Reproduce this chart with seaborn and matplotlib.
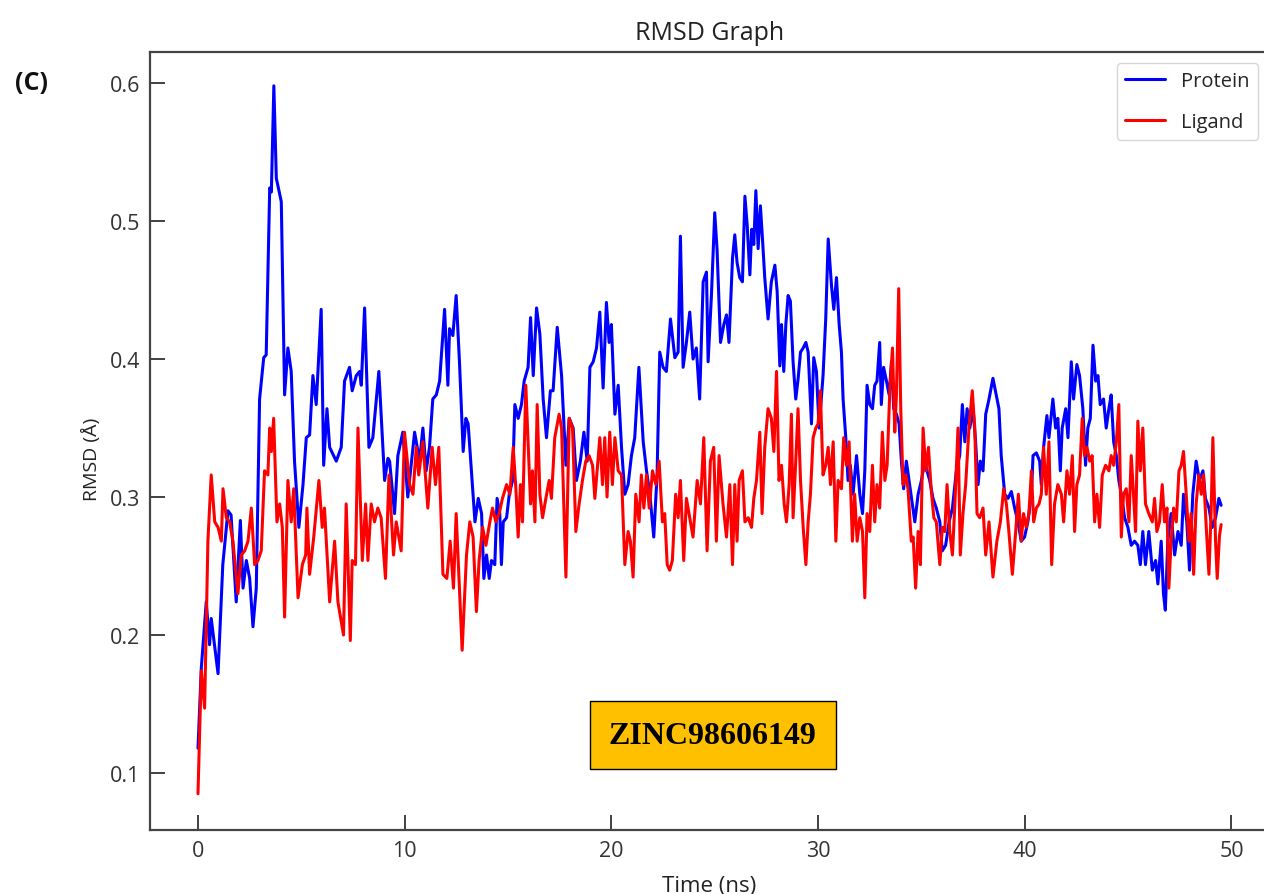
import matplotlib
matplotlib.use("Agg")
import matplotlib.pyplot as plt
import seaborn as sns
import pandas as pd

# Protein RMSD (blue)
protein_time = [0.0, 0.16, 0.4, 0.56, 0.64, 0.97, 1.2, 1.45, 1.6, 1.85, 2.05, 2.18, 2.34, 2.5, 2.66, 2.82,
                2.98, 3.18, 3.3, 3.47, 3.55, 3.67, 3.79, 4.03, 4.19, 4.35, 4.51, 4.67, 4.88, 5.08, 5.24, 5.4,
                5.56, 5.72, 5.96, 6.08, 6.24, 6.37, 6.69, 6.93, 7.09, 7.33, 7.46, 7.66, 7.82, 7.9, 8.06, 8.27,
                8.46, 8.75, 9.03, 9.19, 9.27, 9.51, 9.67, 9.91, 10.15, 10.48, 10.72, 10.88, 11.04, 11.2, 11.36,
                11.53, 11.69, 11.93, 12.09, 12.17, 12.33, 12.49, 12.65, 12.83, 12.96, 13.07, 13.23, 13.4, 13.56,
                13.72, 13.83, 13.96, 14.09, 14.2, 14.36, 14.47, 14.6, 14.68, 14.77, 14.93, 15.06, 15.22, 15.33,
                15.49, 15.65, 15.78, 15.97, 16.09, 16.22, 16.38, 16.54, 16.7, 16.86, 17.05, 17.18, 17.38, 17.59,
                17.8, 17.96, 18.15, 18.31, 18.5, 18.67, 18.83, 18.96, 19.12, 19.28, 19.44, 19.6, 19.76, 19.89,
                20.0, 20.17, 20.33, 20.49, 20.65, 20.81, 20.97, 21.13, 21.33, 21.54, 21.7, 21.86, 22.05, 22.21,
                22.34, 22.5, 22.66, 22.86, 23.07, 23.23, 23.34, 23.47, 23.63, 23.79, 23.95, 24.11, 24.27, 24.44,
                24.6, 24.68, 24.84, 25.0, 25.11, 25.28, 25.44, 25.57, 25.69, 25.86, 25.97, 26.08, 26.21, 26.34,
                26.46, 26.57, 26.7, 26.79, 26.89, 26.99, 27.1, 27.21, 27.31, 27.42, 27.58, 27.74, 27.91, 28.02,
                28.15, 28.23, 28.34, 28.44, 28.55, 28.66, 28.79, 28.92, 29.03, 29.15, 29.28, 29.41, 29.52, 29.68,
                29.79, 29.92, 30.05, 30.24, 30.37, 30.49, 30.65, 30.76, 30.89, 31.02, 31.13, 31.21, 31.34, 31.45,
                31.56, 31.69, 31.86, 32.02, 32.15, 32.26, 32.37, 32.5, 32.63, 32.74, 32.85, 32.98, 33.06, 33.17,
                33.31, 33.44, 33.55, 33.66, 33.79, 33.92, 34.03, 34.14, 34.27, 34.4, 34.52, 34.68, 34.84, 35.0,
                35.16, 35.27, 35.4, 35.56, 35.72, 35.89, 36.01, 36.17, 36.34, 36.5, 36.69, 36.85, 36.98, 37.1,
                37.21, 37.34, 37.5, 37.62, 37.74, 37.85, 37.98, 38.11, 38.27, 38.46, 38.62, 38.75, 38.86, 39.03,
                39.19, 39.35, 39.51, 39.67, 39.83, 39.99, 40.15, 40.32, 40.4, 40.56, 40.72, 40.8, 40.91, 41.07,
                41.17, 41.36, 41.49, 41.6, 41.72, 41.81, 41.98, 42.09, 42.25, 42.36, 42.52, 42.65, 42.81, 42.94,
                43.05, 43.17, 43.3, 43.43, 43.54, 43.65, 43.81, 43.94, 44.07, 44.18, 44.3, 44.43, 44.55, 44.67,
                44.83, 44.99, 45.15, 45.31, 45.47, 45.59, 45.71, 45.84, 46.0, 46.17, 46.33, 46.44, 46.6, 46.71,
                46.8, 46.92, 47.08, 47.25, 47.41, 47.57, 47.68, 47.84, 47.97, 48.13, 48.29, 48.45, 48.62, 48.74,
                48.91, 49.07, 49.23, 49.39, 49.5]
protein_rmsd = [0.118, 0.176, 0.224, 0.193, 0.212, 0.172, 0.251, 0.290, 0.287, 0.224, 0.283, 0.234, 0.254, 0.241,
                0.206, 0.234, 0.371, 0.401, 0.403, 0.524, 0.521, 0.598, 0.531, 0.514, 0.374, 0.408, 0.391, 0.326,
                0.278, 0.309, 0.343, 0.345, 0.388, 0.367, 0.436, 0.323, 0.364, 0.336, 0.326, 0.336, 0.384, 0.394,
                0.377, 0.388, 0.391, 0.381, 0.437, 0.336, 0.343, 0.391, 0.312, 0.328, 0.326, 0.288, 0.330, 0.347,
                0.300, 0.347, 0.326, 0.350, 0.319, 0.336, 0.371, 0.374, 0.384, 0.436, 0.381, 0.422, 0.417, 0.446,
                0.398, 0.333, 0.357, 0.353, 0.319, 0.282, 0.299, 0.288, 0.241, 0.258, 0.241, 0.254, 0.251, 0.299,
                0.288, 0.251, 0.282, 0.285, 0.302, 0.312, 0.367, 0.357, 0.367, 0.384, 0.394, 0.430, 0.388, 0.437,
                0.418, 0.371, 0.343, 0.377, 0.377, 0.423, 0.388, 0.323, 0.357, 0.350, 0.312, 0.326, 0.347, 0.326,
                0.394, 0.398, 0.408, 0.434, 0.379, 0.441, 0.412, 0.425, 0.360, 0.381, 0.336, 0.302, 0.309, 0.330,
                0.343, 0.394, 0.340, 0.319, 0.302, 0.271, 0.316, 0.405, 0.394, 0.391, 0.429, 0.401, 0.405, 0.489,
                0.394, 0.412, 0.434, 0.400, 0.408, 0.371, 0.456, 0.463, 0.398, 0.446, 0.506, 0.480, 0.412, 0.425,
                0.432, 0.412, 0.473, 0.490, 0.470, 0.459, 0.456, 0.518, 0.497, 0.461, 0.494, 0.483, 0.522, 0.480,
                0.511, 0.487, 0.459, 0.429, 0.456, 0.468, 0.449, 0.395, 0.425, 0.391, 0.425, 0.446, 0.442, 0.398,
                0.371, 0.385, 0.405, 0.408, 0.412, 0.405, 0.353, 0.401, 0.391, 0.350, 0.388, 0.429, 0.487, 0.453,
                0.436, 0.459, 0.425, 0.405, 0.371, 0.343, 0.312, 0.323, 0.302, 0.330, 0.302, 0.288, 0.319, 0.381,
                0.367, 0.364, 0.381, 0.384, 0.412, 0.367, 0.394, 0.384, 0.374, 0.398, 0.364, 0.360, 0.353, 0.326,
                0.306, 0.326, 0.312, 0.299, 0.282, 0.302, 0.312, 0.326, 0.319, 0.312, 0.299, 0.292, 0.282, 0.261,
                0.265, 0.282, 0.292, 0.319, 0.330, 0.367, 0.340, 0.364, 0.350, 0.364, 0.340, 0.309, 0.326, 0.319,
                0.360, 0.371, 0.386, 0.374, 0.364, 0.330, 0.302, 0.299, 0.304, 0.292, 0.282, 0.268, 0.271, 0.282,
                0.302, 0.330, 0.332, 0.326, 0.309, 0.336, 0.359, 0.343, 0.371, 0.350, 0.357, 0.319, 0.350, 0.364,
                0.343, 0.398, 0.371, 0.396, 0.388, 0.364, 0.323, 0.350, 0.357, 0.410, 0.384, 0.388, 0.367, 0.371,
                0.350, 0.364, 0.374, 0.340, 0.330, 0.312, 0.302, 0.285, 0.278, 0.265, 0.268, 0.265, 0.251, 0.275,
                0.251, 0.275, 0.247, 0.254, 0.237, 0.268, 0.230, 0.218, 0.268, 0.288, 0.258, 0.275, 0.265, 0.302,
                0.282, 0.247, 0.302, 0.326, 0.312, 0.319, 0.299, 0.292, 0.278, 0.285, 0.299, 0.294]

# Ligand RMSD (red)
ligand_time = [0.0, 0.16, 0.32, 0.48, 0.64, 0.81, 0.97, 1.13, 1.21, 1.37, 1.53, 1.69, 1.93, 2.1, 2.26, 2.42, 2.58,
               2.74, 2.9, 3.06, 3.22, 3.38, 3.47, 3.55, 3.66, 3.82, 3.95, 4.08, 4.19, 4.35, 4.51, 4.63, 4.84, 5.05,
               5.21, 5.27, 5.4, 5.6, 5.85, 6.01, 6.12, 6.37, 6.61, 6.77, 7.04, 7.17, 7.37, 7.46, 7.62, 7.74, 7.95,
               8.11, 8.22, 8.38, 8.54, 8.7, 8.86, 9.07, 9.24, 9.46, 9.59, 9.83, 9.99, 10.24, 10.4, 10.56, 10.68,
               10.88, 11.12, 11.33, 11.49, 11.65, 11.85, 12.04, 12.2, 12.36, 12.49, 12.78, 12.99, 13.15, 13.31,
               13.47, 13.6, 13.77, 13.93, 14.12, 14.25, 14.41, 14.57, 14.73, 14.93, 15.09, 15.25, 15.38, 15.49,
               15.6, 15.7, 15.86, 15.99, 16.09, 16.18, 16.3, 16.41, 16.54, 16.67, 16.83, 16.99, 17.1, 17.26, 17.47,
               17.59, 17.8, 17.96, 18.12, 18.28, 18.44, 18.6, 18.76, 18.92, 19.09, 19.2, 19.31, 19.44, 19.57,
               19.68, 19.79, 19.92, 20.05, 20.17, 20.33, 20.49, 20.65, 20.81, 20.92, 21.05, 21.18, 21.34, 21.45,
               21.57, 21.7, 21.83, 21.99, 22.15, 22.31, 22.47, 22.58, 22.7, 22.82, 22.95, 23.11, 23.23, 23.34,
               23.5, 23.63, 23.79, 23.95, 24.15, 24.31, 24.47, 24.63, 24.79, 24.95, 25.08, 25.21, 25.4, 25.57,
               25.73, 25.86, 25.97, 26.08, 26.18, 26.34, 26.46, 26.62, 26.78, 26.89, 27.02, 27.18, 27.29, 27.42,
               27.58, 27.74, 27.86, 27.99, 28.11, 28.23, 28.36, 28.47, 28.6, 28.71, 28.79, 28.92, 29.03, 29.15,
               29.28, 29.41, 29.52, 29.63, 29.76, 29.89, 30.0, 30.11, 30.24, 30.37, 30.49, 30.6, 30.73, 30.86,
               30.97, 31.13, 31.24, 31.37, 31.5, 31.66, 31.77, 31.89, 32.02, 32.15, 32.26, 32.37, 32.5, 32.63,
               32.74, 32.85, 32.98, 33.11, 33.23, 33.34, 33.47, 33.6, 33.71, 33.79, 33.9, 34.0, 34.11, 34.24,
               34.35, 34.51, 34.6, 34.72, 34.84, 34.95, 35.08, 35.21, 35.34, 35.47, 35.6, 35.72, 35.89, 36.01,
               36.13, 36.24, 36.37, 36.5, 36.61, 36.77, 36.88, 37.01, 37.14, 37.3, 37.46, 37.58, 37.69, 37.82,
               37.98, 38.11, 38.27, 38.46, 38.65, 38.82, 38.98, 39.11, 39.23, 39.4, 39.56, 39.69, 39.83, 39.94,
               40.07, 40.2, 40.32, 40.43, 40.56, 40.69, 40.8, 40.91, 41.04, 41.17, 41.3, 41.44, 41.6, 41.77, 41.88,
               42.04, 42.17, 42.3, 42.41, 42.52, 42.65, 42.78, 42.89, 43.01, 43.14, 43.26, 43.38, 43.49, 43.62,
               43.75, 43.91, 44.07, 44.18, 44.3, 44.43, 44.55, 44.67, 44.78, 44.91, 45.04, 45.15, 45.26, 45.36,
               45.47, 45.59, 45.71, 45.84, 46.0, 46.17, 46.28, 46.39, 46.52, 46.65, 46.76, 46.88, 46.97, 47.08,
               47.2, 47.33, 47.46, 47.57, 47.68, 47.81, 47.94, 48.05, 48.17, 48.29, 48.42, 48.54, 48.65, 48.78,
               48.91, 49.02, 49.1, 49.23, 49.31, 49.42, 49.5]
ligand_rmsd = [0.085, 0.174, 0.147, 0.268, 0.316, 0.282, 0.278, 0.268, 0.306, 0.285, 0.282, 0.268, 0.230, 0.258,
               0.261, 0.268, 0.292, 0.251, 0.254, 0.261, 0.319, 0.316, 0.350, 0.333, 0.357, 0.282, 0.295, 0.278,
               0.213, 0.312, 0.282, 0.306, 0.227, 0.251, 0.258, 0.292, 0.244, 0.271, 0.312, 0.278, 0.292, 0.224,
               0.268, 0.224, 0.200, 0.295, 0.196, 0.254, 0.251, 0.350, 0.254, 0.295, 0.254, 0.295, 0.282, 0.292,
               0.285, 0.241, 0.316, 0.258, 0.282, 0.261, 0.347, 0.309, 0.302, 0.336, 0.316, 0.340, 0.292, 0.336,
               0.309, 0.336, 0.244, 0.241, 0.268, 0.234, 0.288, 0.189, 0.258, 0.282, 0.271, 0.217, 0.254, 0.278,
               0.265, 0.282, 0.292, 0.282, 0.288, 0.299, 0.309, 0.302, 0.336, 0.306, 0.271, 0.309, 0.282, 0.381,
               0.333, 0.295, 0.319, 0.282, 0.367, 0.302, 0.285, 0.299, 0.312, 0.299, 0.343, 0.360, 0.350, 0.242,
               0.357, 0.350, 0.275, 0.295, 0.312, 0.326, 0.330, 0.323, 0.299, 0.319, 0.343, 0.309, 0.343, 0.300,
               0.347, 0.309, 0.343, 0.319, 0.316, 0.251, 0.275, 0.268, 0.242, 0.302, 0.282, 0.316, 0.292, 0.316,
               0.292, 0.319, 0.309, 0.326, 0.282, 0.288, 0.251, 0.247, 0.254, 0.302, 0.285, 0.312, 0.254, 0.299,
               0.285, 0.271, 0.312, 0.295, 0.343, 0.261, 0.326, 0.336, 0.268, 0.330, 0.295, 0.271, 0.309, 0.251,
               0.309, 0.268, 0.312, 0.319, 0.282, 0.285, 0.278, 0.299, 0.312, 0.347, 0.288, 0.336, 0.364, 0.357,
               0.333, 0.391, 0.312, 0.323, 0.295, 0.282, 0.309, 0.360, 0.285, 0.326, 0.364, 0.312, 0.278, 0.251,
               0.282, 0.302, 0.343, 0.350, 0.353, 0.377, 0.316, 0.323, 0.336, 0.309, 0.340, 0.268, 0.312, 0.306,
               0.343, 0.323, 0.340, 0.268, 0.302, 0.268, 0.285, 0.275, 0.227, 0.288, 0.275, 0.323, 0.282, 0.309,
               0.292, 0.347, 0.312, 0.323, 0.377, 0.408, 0.347, 0.374, 0.451, 0.364, 0.309, 0.316, 0.306, 0.268,
               0.271, 0.234, 0.275, 0.251, 0.350, 0.319, 0.336, 0.306, 0.285, 0.282, 0.251, 0.278, 0.275, 0.309,
               0.275, 0.258, 0.292, 0.350, 0.258, 0.288, 0.309, 0.350, 0.377, 0.350, 0.288, 0.285, 0.292, 0.258,
               0.282, 0.242, 0.268, 0.282, 0.306, 0.295, 0.275, 0.244, 0.275, 0.302, 0.268, 0.288, 0.278, 0.288,
               0.319, 0.282, 0.292, 0.295, 0.302, 0.336, 0.302, 0.340, 0.251, 0.295, 0.309, 0.302, 0.282, 0.319,
               0.302, 0.330, 0.275, 0.309, 0.316, 0.357, 0.330, 0.336, 0.326, 0.330, 0.282, 0.302, 0.278, 0.316,
               0.323, 0.319, 0.330, 0.323, 0.340, 0.367, 0.271, 0.302, 0.306, 0.282, 0.330, 0.302, 0.275, 0.355,
               0.319, 0.350, 0.295, 0.288, 0.282, 0.299, 0.275, 0.282, 0.309, 0.282, 0.292, 0.234, 0.268, 0.292,
               0.282, 0.319, 0.323, 0.333, 0.302, 0.268, 0.288, 0.244, 0.295, 0.316, 0.302, 0.316, 0.278, 0.244,
               0.292, 0.343, 0.268, 0.241, 0.272, 0.280]

series_names = ["Protein", "Ligand"]
series_colors = ["blue", "red"]
compound_label = "ZINC98606149"

df = pd.concat([
    pd.DataFrame({"Time": protein_time, "RMSD": protein_rmsd, "Series": "Protein"}),
    pd.DataFrame({"Time": ligand_time, "RMSD": ligand_rmsd, "Series": "Ligand"}),
], ignore_index=True)

sns.set_style("white")
plt.rcParams["font.family"] = ["Open Sans", "DejaVu Sans"]

fig = plt.figure(figsize=(12.64, 8.95), dpi=100)
ax = fig.add_axes([0.1187, 0.0715, 0.885, 0.8693])

sns.lineplot(data=df, x="Time", y="RMSD", hue="Series", hue_order=series_names,
             palette=dict(zip(series_names, series_colors)), estimator=None, sort=False,
             linewidth=2.2, ax=ax)

ax.set_xlim(-2.32, 51.8)
ax.set_ylim(0.0587, 0.6225)
ax.set_xticks([0, 10, 20, 30, 40, 50])
ax.set_yticks([0.1, 0.2, 0.3, 0.4, 0.5, 0.6])
ax.tick_params(direction="in", length=11, width=1.3, colors="#333333", labelsize=15.5,
               left=True, bottom=True, pad=7)
for s in ax.spines.values():
    s.set_color("#444444")
    s.set_linewidth(1.6)

ax.set_title("RMSD Graph", fontsize=18, color="#222222", pad=9)
ax.set_xlabel("Time (ns)", fontsize=16, color="#222222", labelpad=10)
ax.set_ylabel("RMSD (Å)", fontsize=14, color="#222222")
ax.yaxis.set_label_coords(-0.044, 0.478)

ax.legend(loc="upper right", fontsize=14.5, frameon=True, borderaxespad=0.55, labelspacing=1.05)

ax.text(24.9, 0.1275, compound_label, ha="center", va="center", fontsize=23, fontweight="bold",
        family="Liberation Serif", color="black",
        bbox=dict(boxstyle="square,pad=0.6", fc="#FFC000", ec="black", lw=1))

fig.text(0.012, 0.907, "(C)", fontsize=18, fontweight="bold", color="#111111", va="center")

fig.savefig("out.png", dpi=100)
